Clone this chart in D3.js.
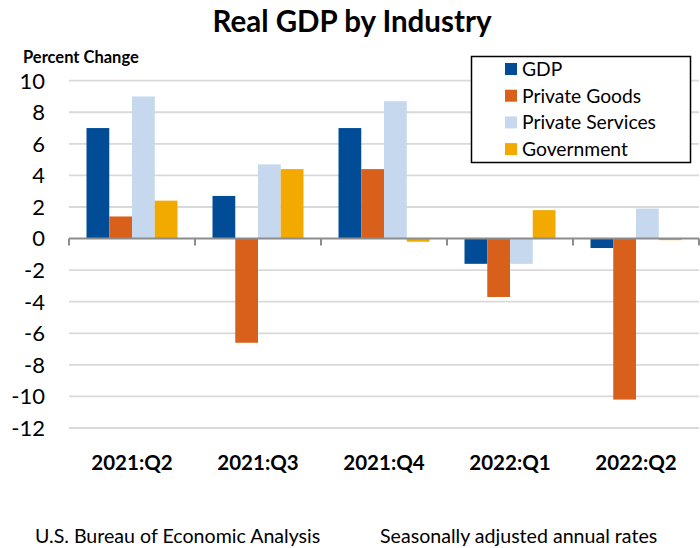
<!DOCTYPE html>
<html><head><meta charset="utf-8">
<script src="https://cdn.jsdelivr.net/npm/d3@7"></script>
<style>body{margin:0;background:#fff;}svg{display:block;font-family:Lato,"Open Sans",sans-serif;}</style>
</head><body>
<svg id="c" width="700" height="548"></svg>
<script>
const categories = ["2021:Q2","2021:Q3","2021:Q4","2022:Q1","2022:Q2"];
const seriesNames = ["GDP","Private Goods","Private Services","Government"];
const gdp = [7.0, 2.7, 7.0, -1.6, -0.6];
const privateGoods = [1.4, -6.6, 4.4, -3.7, -10.2];
const privateServices = [9.0, 4.7, 8.7, -1.6, 1.9];
const government = [2.4, 4.4, -0.2, 1.8, -0.1];
const yTicks = [10,8,6,4,2,0,-2,-4,-6,-8,-10,-12];
const colors = ["#004C97","#D9601A","#C5D8EE","#F2A900"];

const seriesValues = [gdp, privateGoods, privateServices, government];
const svg = d3.select("#c");
const y = d3.scaleLinear().domain([-12,10]).range([428,80.7]);
const x0 = d3.scaleBand().domain(categories).range([69,699]).padding(0);
const x1 = d3.scaleBand().domain(seriesNames).range([0,x0.bandwidth()]).paddingInner(0).paddingOuter(0.77);

// gridlines
svg.append("g").selectAll("line").data(yTicks.filter(d=>d!==0)).join("line")
  .attr("x1",69).attr("x2",699).attr("y1",d=>y(d)).attr("y2",d=>y(d))
  .attr("stroke","#d9d9d9").attr("stroke-width",1.8);

// y labels
svg.append("g").selectAll("text").data(yTicks).join("text")
  .attr("x",45).attr("y",d=>y(d)).attr("dy","0.36em").attr("text-anchor","end")
  .attr("font-size",22).attr("fill","#000").text(d=>d);

// bars
const g = svg.append("g");
seriesValues.forEach((vals,si)=>{
  g.append("g").selectAll("rect").data(vals).join("rect")
    .attr("x",(d,i)=>x0(categories[i])+x1(seriesNames[si]))
    .attr("width",x1.bandwidth())
    .attr("y",d=>y(Math.max(0,d)))
    .attr("height",d=>Math.abs(y(d)-y(0)))
    .attr("fill",colors[si]);
});

// zero axis
svg.append("line").attr("x1",69).attr("x2",699).attr("y1",y(0)).attr("y2",y(0))
  .attr("stroke","#8c8c8c").attr("stroke-width",2);
const bounds = categories.map(c=>x0(c)).concat([x0.range()[1]]);
svg.append("g").selectAll("line").data(bounds).join("line")
  .attr("x1",d=>d).attr("x2",d=>d).attr("y1",y(0)).attr("y2",y(0)+7)
  .attr("stroke","#8c8c8c").attr("stroke-width",2);

// x labels
svg.append("g").selectAll("text").data(categories).join("text")
  .attr("x",d=>x0(d)+x0.bandwidth()/2).attr("y",470).attr("text-anchor","middle")
  .attr("font-size",20.5).attr("font-weight","bold").text(d=>d);

// title
svg.append("text").attr("x",352).attr("y",32).attr("text-anchor","middle")
  .attr("font-size",29.5).attr("font-weight","bold").text("Real GDP by Industry");
svg.append("text").attr("x",23).attr("y",63).attr("font-size",16.5).attr("font-weight","bold").text("Percent Change");

// legend
const lg = svg.append("g");
lg.append("rect").attr("x",471.5).attr("y",56.5).attr("width",219).attr("height",106)
  .attr("fill","#fff").attr("stroke","#000").attr("stroke-width",1.5);
seriesNames.forEach((s,i)=>{
  const cy = 69 + i*26.7;
  lg.append("rect").attr("x",505).attr("y",cy-6).attr("width",12).attr("height",12).attr("fill",colors[i]);
  lg.append("text").attr("x",522).attr("y",cy).attr("dy","0.36em").attr("font-size",19.3).text(s);
});

// footer
svg.append("text").attr("x",35).attr("y",543).attr("font-size",19.6).text("U.S. Bureau of Economic Analysis");
svg.append("text").attr("x",380).attr("y",543).attr("font-size",19.6).text("Seasonally adjusted annual rates");
</script>
</body></html>
